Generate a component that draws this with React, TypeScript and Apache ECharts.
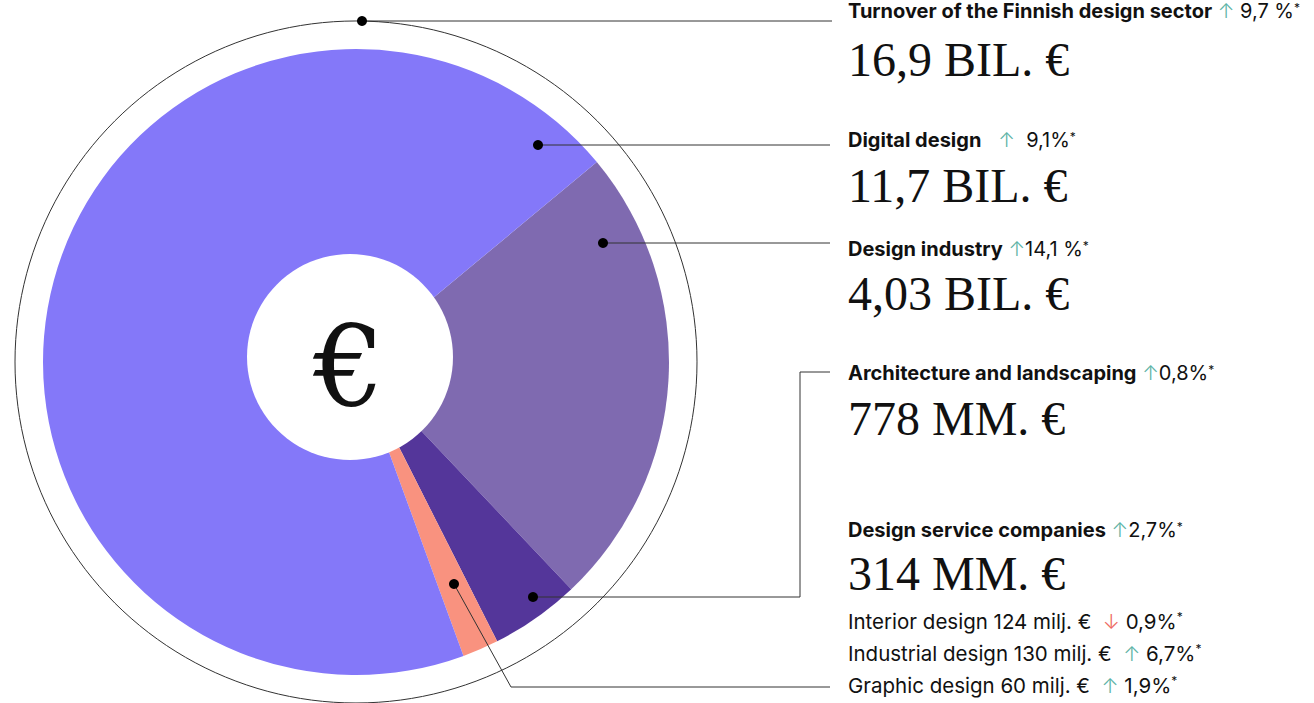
import React, { useEffect, useRef } from "react";
import * as echarts from "echarts";

// ---- data ----
const sliceNames = ["Design industry", "Architecture and landscaping", "Design service companies", "Digital design"];
const sliceValues = [4.03, 0.778, 0.314, 11.7];
const sliceColors = ["#7F6AB0", "#54369A", "#F9927F", "#8478F9"];

const headTitles = [
  "Turnover of the Finnish design sector",
  "Digital design",
  "Design industry",
  "Architecture and landscaping",
  "Design service companies",
];
const headChanges = ["9,7 %", "9,1%", "14,1 %", "0,8%", "2,7%"];
const headTotals = ["16,9 BIL. €", "11,7 BIL. €", "4,03 BIL. €", "778 MM. €", "314 MM. €"];
const subNames = ["Interior design 124 milj. €", "Industrial design 130 milj. €", "Graphic design 60 milj. €"];
const subChanges = ["0,9%", "6,7%", "1,9%"];
const subUp = [false, true, true];

// ---- layout ----
const SANS = "Inter, 'Noto Sans', sans-serif";
const SERIF = "'Liberation Serif', 'DejaVu Serif', serif";
const TEXT_X = 848;
const titleY = [11, 140, 249, 373, 530];
const totalY = [59, 185, 293, 418, 573];
const subY = [621, 653, 685];
const gapBefore = [" ", "   ", " ", " ", " "];
const gapAfter = [" ", "  ", "", "", ""];

const UP = "#5DB3A6";
const DOWN = "#EE6B63";
const LINE = "#333333";

export default function App() {
  const ref = useRef<HTMLDivElement>(null);
  useEffect(() => {
    if (!ref.current) return;
    const chart = echarts.init(ref.current, undefined, { renderer: "svg" });

    const mk = (size: number) => ({
      b: { fontFamily: SANS, fontSize: size, fontWeight: 700, fill: "#111" },
      a: { fontFamily: SANS, fontSize: size, fontWeight: 300, fill: UP },
      d: { fontFamily: SANS, fontSize: size, fontWeight: 300, fill: DOWN },
      n: { fontFamily: SANS, fontSize: size, fontWeight: 400, fill: "#111" },
      s: { fontFamily: SANS, fontSize: 12, fontWeight: 400, fill: "#111", verticalAlign: "top" as const, padding: [0, 0, 8, 0] },
    });
    const richTitle = mk(20);
    const richSub = mk(20.5);

    const texts: any[] = [];
    headTitles.forEach((t, i) => {
      texts.push({
        type: "text",
        z: 110,
        style: {
          x: TEXT_X,
          y: titleY[i],
          text: `{b|${t}}{n|${gapBefore[i]}}{a|↑}{n|${gapAfter[i]}${headChanges[i]}}{s|*}`,
          rich: richTitle,
          textVerticalAlign: "middle",
        },
      });
      texts.push({
        type: "text",
        z: 110,
        style: {
          x: TEXT_X,
          y: totalY[i],
          text: headTotals[i],
          font: `400 48px ${SERIF}`,
          fill: "#111",
          textVerticalAlign: "middle",
        },
      });
    });
    subNames.forEach((t, i) => {
      texts.push({
        type: "text",
        z: 110,
        style: {
          x: TEXT_X,
          y: subY[i],
          text: `{n|${t}  }{${subUp[i] ? "a" : "d"}|${subUp[i] ? "↑" : "↓"}}{n| ${subChanges[i]}}{s|*}`,
          rich: richSub,
          textVerticalAlign: "middle",
        },
      });
    });

    const lines: [number, number][][] = [
      [[362, 21], [832, 21]],
      [[538, 145], [830, 145]],
      [[603, 243], [830, 243]],
      [[533, 597], [800, 597], [800, 372], [830, 372]],
      [[454, 584], [511, 687], [830, 687]],
    ];
    const leaders: any[] = [];
    lines.forEach((pts) => {
      leaders.push({
        type: "polyline",
        z: 105,
        shape: { points: pts },
        style: { stroke: LINE, lineWidth: 1, fill: "none" },
      });
      leaders.push({
        type: "circle",
        z: 106,
        shape: { cx: pts[0][0], cy: pts[0][1], r: 5 },
        style: { fill: "#000" },
      });
    });

    chart.setOption({
      animation: false,
      series: [
        {
          type: "pie",
          center: [356, 362],
          radius: [0, 313],
          startAngle: 39.7,
          silent: true,
          label: { show: false },
          labelLine: { show: false },
          emphasis: { disabled: true },
          itemStyle: { borderWidth: 0 },
          data: sliceNames.map((name, i) => ({ name, value: sliceValues[i], itemStyle: { color: sliceColors[i] } })),
        },
      ],
      graphic: [
        {
          type: "circle",
          z: 100,
          shape: { cx: 356, cy: 362, r: 341 },
          style: { fill: "none", stroke: LINE, lineWidth: 1 },
        },
        {
          type: "circle",
          z: 101,
          shape: { cx: 350, cy: 357, r: 103 },
          style: { fill: "#fff" },
        },
        {
          type: "text",
          z: 102,
          style: {
            x: 349,
            y: 366,
            text: "€",
            font: `400 112px 'DejaVu Serif', serif`,
            fill: "#111",
            textAlign: "center",
            textVerticalAlign: "middle",
          },
        },
        ...leaders,
        ...texts,
      ],
    });
    return () => chart.dispose();
  }, []);
  return <div ref={ref} style={{ position: "absolute", left: 0, top: 0, width: 1314, height: 703 }} />;
}
